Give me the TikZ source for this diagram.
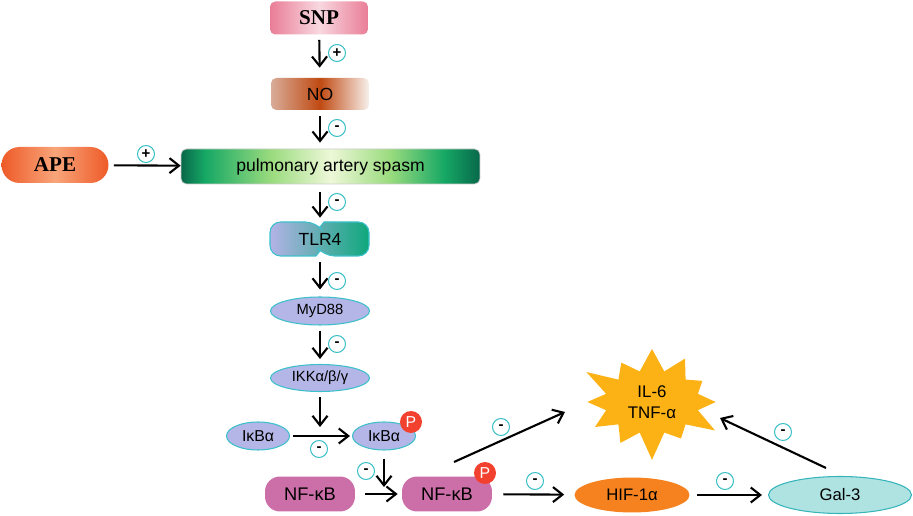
\documentclass[tikz,border=0pt]{standalone}
\usepackage{fontspec}
\setmainfont{Liberation Sans}
\newfontfamily\timesfont{Liberation Serif}
\usetikzlibrary{positioning,shapes.geometric,shapes.symbols,arrows.meta}

\definecolor{snpc}{HTML}{E97D96}
\definecolor{snpl}{HTML}{F8D8E0}
\definecolor{nol}{HTML}{D8AC98}
\definecolor{nod}{HTML}{C04A12}
\definecolor{nor}{HTML}{F8F0EC}
\definecolor{apec}{HTML}{EE5A28}
\definecolor{apel}{HTML}{F8A57A}
\definecolor{pasd}{HTML}{08684A}
\definecolor{pasm}{HTML}{16A865}
\definecolor{pasg}{HTML}{9ADB7E}
\definecolor{pasl}{HTML}{EEF8D8}
\definecolor{tlrl}{HTML}{B3B3E6}
\definecolor{tlrr}{HTML}{0EA87C}
\definecolor{lavc}{HTML}{B3B6E6}
\definecolor{rimc}{HTML}{3CC0CC}
\definecolor{pc}{HTML}{F2412E}
\definecolor{nfc}{HTML}{CC6FA8}
\definecolor{hifc}{HTML}{F5821F}
\definecolor{galc}{HTML}{AEE3E2}
\definecolor{galb}{HTML}{35B5BA}
\definecolor{burstc}{HTML}{FCB215}
\definecolor{signc}{HTML}{3CC0C8}

\pgfdeclarehorizontalshading{spasmshade}{100bp}{color(0bp)=(pasd); color(25bp)=(pasd); color(29bp)=(pasm); color(40bp)=(pasg); color(50bp)=(pasl); color(60bp)=(pasg); color(69bp)=(pasm); color(75bp)=(pasd); color(100bp)=(pasd)}

\begin{document}
\begin{tikzpicture}[x=0.02cm,y=-0.02cm,
    arr/.style={line width=1.2pt,-{Straight Barb[length=0.19cm,width=0.3cm]}},
    sign/.style={circle,draw=signc,line width=0.6pt,fill=white,inner sep=0pt,minimum size=0.34cm,font=\fontsize{8.5}{8.5}\selectfont\bfseries},
    oval/.style={ellipse,draw=rimc,line width=0.6pt,fill=lavc,inner sep=0pt,minimum width=1.98cm,minimum height=0.56cm,font=\fontsize{8.4}{9}\selectfont},
    phos/.style={circle,fill=pc,text=white,inner sep=0pt,minimum size=0.44cm,font=\fontsize{9}{9}\selectfont},
    nfkb/.style={rectangle,rounded corners=0.3cm,fill=nfc,minimum width=1.8cm,minimum height=0.7cm,font=\fontsize{10.4}{11}\selectfont}]
  \useasboundingbox (0,0) rectangle (913,516);

  % top of the chain
  \node[rectangle,rounded corners=3pt,left color=snpc,right color=snpc,middle color=snpl,minimum width=1.96cm,minimum height=0.66cm,font=\timesfont\fontsize{12}{12}\selectfont\bfseries](snp) at (319,18){SNP};
  \node[rectangle,rounded corners=3pt,left color=nol,right color=nor,middle color=nod,minimum width=1.96cm,minimum height=0.64cm,font=\fontsize{10}{12}\selectfont](no) at (320,94){NO};
  \node[rectangle,rounded corners=0.36cm,left color=apec,right color=apec,middle color=apel,minimum width=2.14cm,minimum height=0.72cm,font=\timesfont\fontsize{12}{12}\selectfont\bfseries](ape) at (55,165){APE};
  \node[rectangle,rounded corners=3pt,draw=gray!40,shading=spasmshade,minimum width=5.98cm,minimum height=0.7cm,font=\fontsize{10}{12}\selectfont](pas) at (330.5,166.5){pulmonary artery spasm};

  % receptor
  \shade[left color=tlrl,right color=tlrr,draw=rimc,line width=0.6pt,rounded corners=6pt]
    (270,222) -- (316,222) [sharp corners]-- (320,227) -- (324,222) [rounded corners=6pt]-- (369,222)
    -- (369,256) -- (324,256) [sharp corners]-- (320,251) -- (316,256) [rounded corners=6pt]-- (270,256) -- cycle;
  \node[minimum width=1.98cm,minimum height=0.68cm,font=\fontsize{10}{12}\selectfont](tlr) at (320,239){TLR4};

  \node[oval](myd) at (320,311){MyD88};
  \node[oval,minimum height=0.54cm](ikk) at (320,378){IKKα/β/γ};
  \node[oval,minimum width=1.26cm,font=\fontsize{9}{9}\selectfont](ikb) at (258,436){IκBα};
  \node[oval,minimum width=1.26cm,font=\fontsize{9}{9}\selectfont](ikbp) at (384,436){IκBα};
  \node[phos](p1) at (411,422){P};

  \node[nfkb](nf) at (310,494){NF-κB};
  \node[nfkb](nfp) at (447,494){NF-κB};
  \node[phos](p2) at (485,473){P};

  \node[ellipse,fill=hifc,minimum width=2.3cm,minimum height=0.7cm,font=\fontsize{9.5}{11}\selectfont](hif) at (632,495){HIF-1α};
  \node[ellipse,fill=galc,draw=galb,line width=0.6pt,minimum width=2.86cm,minimum height=0.74cm,font=\fontsize{9.5}{11}\selectfont](gal) at (840,495){Gal-3};
  \node[starburst,fill=burstc,starburst points=12,starburst point height=0.6cm,minimum width=3.1cm,minimum height=1.75cm,align=center,font=\fontsize{9.6}{12}\selectfont](il) at (652,402){IL-6\\TNF-α};

  \coordinate (ikkdown) at (320,427);
  \coordinate (nfdown) at (384,487);
  \coordinate (nfup) at (454,462);
  \coordinate (ilin) at (565,412);
  \coordinate (galup) at (826,468);
  \coordinate (ilout) at (720,418);

  % arrows
  \draw[arr,shorten <=0.1cm,shorten >=0.2cm] (snp) -- (no);
  \draw[arr,shorten <=0.12cm,shorten >=0.12cm] (no.south) -- (no |- pas.north);
  \draw[arr,shorten <=0.1cm] (ape) -- (pas);
  \draw[arr,shorten <=0.16cm,shorten >=0.08cm] (tlr |- pas.south) -- (tlr.north);
  \draw[arr,shorten <=0.12cm,shorten >=0.14cm] (tlr) -- (myd);
  \draw[arr,shorten <=0.1cm,shorten >=0.1cm] (myd) -- (ikk);
  \draw[arr,shorten <=0.1cm] (ikk) -- (ikkdown);
  \draw[arr,shorten <=0.06cm,shorten >=0.04cm] (ikb) -- (ikbp);
  \draw[arr,shorten <=0.16cm] (ikbp.south) -- (nfdown);
  \draw[arr,shorten <=0.2cm,shorten >=0.08cm] (nf) -- (nfp);
  \draw[arr] (nfup) -- (ilin);
  \draw[arr,shorten <=0.22cm,shorten >=0.2cm] (nfp) -- (hif);
  \draw[arr,shorten <=0.14cm,shorten >=0.12cm] (hif) -- (gal);
  \draw[arr] (galup) -- (ilout);

  % signs
  \node[sign](s1) at (337,53){+};
  \node[sign](s2) at (337,128){-};
  \node[sign](s3) at (146,154){+};
  \node[sign](s4) at (337,202){-};
  \node[sign](s5) at (337,281){-};
  \node[sign](s6) at (337,344){-};
  \node[sign](s7) at (319,449){-};
  \node[sign](s8) at (366,471){-};
  \node[sign](s9) at (501,427){-};
  \node[sign](s10) at (535,481){-};
  \node[sign](s11) at (725,481){-};
  \node[sign](s12) at (783,432){-};
\end{tikzpicture}
\end{document}
